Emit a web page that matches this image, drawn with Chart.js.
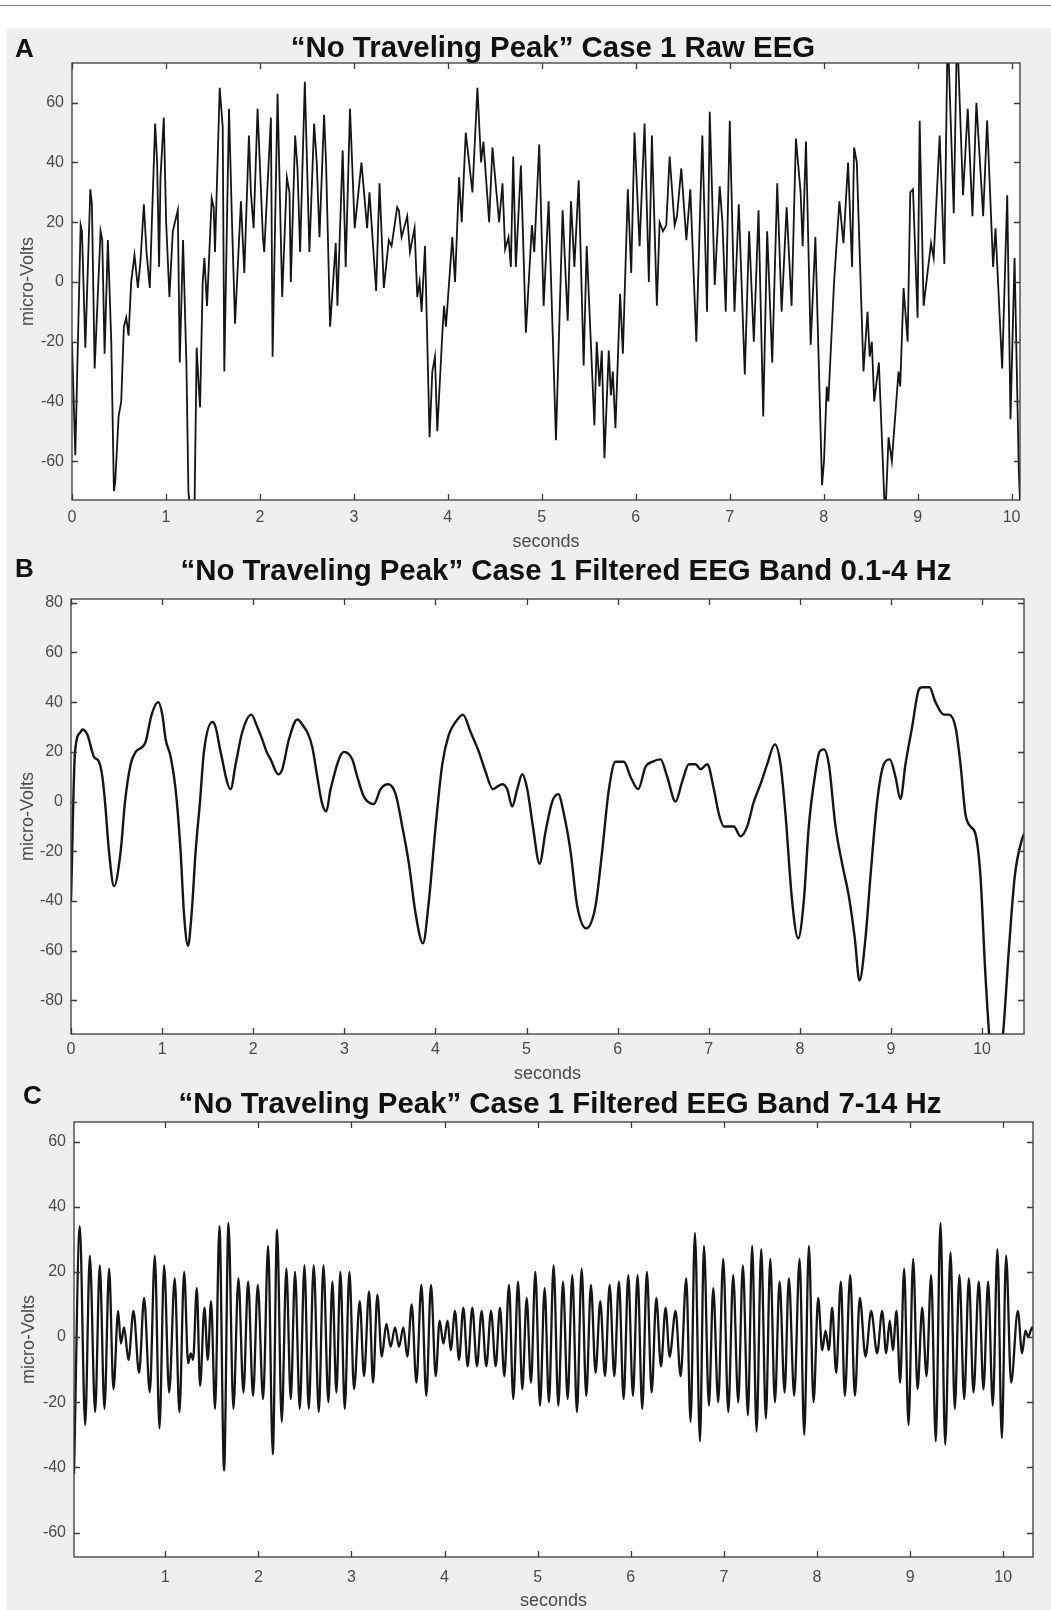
<!DOCTYPE html>
<html>
<head>
<meta charset="utf-8">
<script src="https://cdn.jsdelivr.net/npm/chart.js@4.4.1/dist/chart.umd.min.js"></script>
<style>
  html, body { margin: 0; padding: 0; background: #fff; }
  #page { position: relative; width: 1051px; height: 1610px; overflow: hidden;
          font-family: "Liberation Sans", Arial, sans-serif; }
  .topline { position: absolute; left: 0; top: 5px; width: 1051px; height: 1px; background: #7a7a7a; }
  .figbg { position: absolute; left: 7px; top: 28px; width: 1044px; height: 1582px; background: #efefef; }
  canvas { position: absolute; left: 0; }
  .ptitle { position: absolute; font-weight: bold; font-size: 29.4px; line-height: 29px;
            white-space: nowrap; color: #111; transform: translateX(-50%); }
  .letter { position: absolute; font-weight: bold; font-size: 26px; line-height: 26px; color: #111; }
</style>
</head>
<body>
<div id="page">
  <div class="topline"></div>
  <div class="figbg"></div>
  <canvas id="chartA" width="1051" height="528" style="top:28px"></canvas>
  <canvas id="chartB" width="1051" height="534" style="top:556px"></canvas>
  <canvas id="chartC" width="1051" height="525" style="top:1090px"></canvas>
  <div class="letter" style="left:15px; top:35px">A</div>
  <div class="ptitle" style="left:553px; top:32px">“No Traveling Peak” Case 1 Raw EEG</div>
  <div class="letter" style="left:15px; top:555px">B</div>
  <div class="ptitle" style="left:566px; top:555px">“No Traveling Peak” Case 1 Filtered EEG Band 0.1-4 Hz</div>
  <div class="letter" style="left:23px; top:1082px">C</div>
  <div class="ptitle" style="left:560px; top:1088px">“No Traveling Peak” Case 1 Filtered EEG Band 7-14 Hz</div>
</div>
<script>
// --- A: raw EEG (seconds / micro-volts) ---
const tA = [
  0.000,0.035,0.092,0.106,0.142,0.195,0.212,0.241,0.304,0.322,
  0.347,0.382,0.418,0.446,0.460,0.496,0.524,0.552,0.577,0.602,
  0.630,0.665,0.701,0.729,0.765,0.793,0.828,0.850,0.885,0.906,
  0.927,0.942,0.977,1.002,1.037,1.073,1.126,1.147,1.182,1.218,
  1.239,1.267,1.303,1.327,1.349,1.363,1.391,1.409,1.437,1.487,
  1.508,1.522,1.572,1.604,1.621,1.671,1.703,1.735,1.798,1.834,
  1.883,1.904,1.933,1.975,2.032,2.046,2.117,2.135,2.188,2.237,
  2.287,2.315,2.329,2.375,2.400,2.428,2.478,2.527,2.577,2.605,
  2.634,2.683,2.704,2.747,2.807,2.825,2.881,2.913,2.959,3.009,
  3.081,3.141,3.166,3.237,3.273,3.319,3.372,3.401,3.461,3.479,
  3.508,3.568,3.597,3.646,3.675,3.700,3.721,3.757,3.806,3.835,
  3.863,3.888,3.942,3.960,3.980,4.048,4.077,4.120,4.148,4.191,
  4.262,4.315,4.354,4.379,4.440,4.475,4.546,4.582,4.610,4.646,
  4.671,4.696,4.724,4.778,4.831,4.895,4.920,4.973,5.020,5.073,
  5.151,5.222,5.276,5.311,5.347,5.393,5.446,5.478,5.560,5.585,
  5.614,5.639,5.667,5.713,5.736,5.756,5.784,5.834,5.863,5.916,
  5.952,5.987,6.041,6.094,6.140,6.172,6.225,6.254,6.290,6.325,
  6.361,6.414,6.439,6.485,6.539,6.581,6.645,6.709,6.759,6.788,
  6.841,6.894,6.923,6.958,7.001,7.051,7.097,7.161,7.207,7.257,
  7.307,7.357,7.399,7.453,7.506,7.553,7.606,7.659,7.705,7.755,
  7.777,7.812,7.862,7.912,7.983,8.004,8.033,8.050,8.111,8.168,
  8.211,8.260,8.303,8.324,8.353,8.424,8.467,8.490,8.513,8.538,
  8.588,8.655,8.691,8.726,8.797,8.815,8.851,8.894,8.922,8.951,
  9.000,9.022,9.064,9.143,9.171,9.235,9.285,9.320,9.385,9.420,
  9.484,9.534,9.584,9.626,9.698,9.740,9.804,9.829,9.900,9.954,
  9.989,10.032,10.078,10.096
];
const vA = [
  -20,-58,19,17,-22,31,26,-29,17,14,
  -24,14,-20,-70,-67,-45,-40,-15,-12,-18,
  0,9,-2,7,26,10,-2,20,53,40,
  5,35,55,20,-5,17,24,-27,14,-28,
  -70,-80,-78,-22,-35,-42,0,8,-8,28,
  25,10,65,52,-30,58,20,-14,27,3,
  49,30,18,58,15,10,55,-25,63,-5,
  35,30,0,49,38,10,67,10,53,40,
  15,56,40,-15,13,-8,44,5,58,18,
  40,18,30,-3,33,-2,14,12,25,24,
  15,22,10,18,-5,0,-10,12,-52,-30,
  -25,-50,-17,-8,-15,15,0,35,20,50,
  30,65,40,47,20,45,20,33,11,15,
  5,42,5,39,-17,19,10,46,-8,27,
  -53,24,-13,27,5,34,-28,12,-48,-20,
  -35,-23,-59,-23,-38,-30,-49,-4,-24,31,
  3,50,12,53,0,49,-8,20,17,19,
  42,19,22,38,14,31,-20,49,-10,57,
  -1,32,20,-10,54,-10,26,-31,17,-20,
  24,-45,17,-27,33,-10,25,-8,48,30,
  12,47,-21,15,-68,-60,-35,-40,0,27,
  13,40,5,45,40,-30,-10,-25,-20,-40,
  -27,-80,-52,-60,-30,-35,-2,-20,30,31,
  -12,54,-8,13,8,49,6,85,23,85,
  29,58,22,60,22,54,5,18,-29,29,
  -46,8,-64,-78
];

// --- B: 0.1-4 Hz band ---
const tB = [
  0.000,0.044,0.106,0.124,0.179,0.252,0.307,0.344,0.373,0.417,
  0.472,0.545,0.593,0.655,0.710,0.783,0.819,0.885,0.958,1.002,
  1.039,1.094,1.148,1.203,1.240,1.284,1.324,1.368,1.416,1.459,
  1.551,1.587,1.642,1.752,1.807,1.880,1.979,2.045,2.099,2.147,
  2.191,2.275,2.319,2.392,2.484,2.557,2.593,2.648,2.703,2.751,
  2.802,2.849,2.996,3.087,3.142,3.215,3.325,3.398,3.482,3.563,
  3.636,3.709,3.782,3.863,3.928,4.002,4.075,4.148,4.221,4.302,
  4.386,4.477,4.550,4.631,4.678,4.733,4.788,4.843,4.898,4.953,
  5.008,5.070,5.143,5.209,5.282,5.348,5.410,5.483,5.556,5.655,
  5.757,5.830,5.904,5.977,6.068,6.141,6.225,6.306,6.379,6.471,
  6.544,6.635,6.708,6.782,6.855,6.910,6.983,7.056,7.111,7.166,
  7.275,7.349,7.422,7.495,7.568,7.641,7.725,7.788,7.842,7.915,
  7.981,8.043,8.098,8.164,8.215,8.263,8.318,8.391,8.464,8.537,
  8.603,8.654,8.720,8.775,8.848,8.921,8.987,9.049,9.104,9.159,
  9.232,9.305,9.342,9.423,9.488,9.580,9.635,9.708,9.763,9.817,
  9.872,9.927,9.982,10.037,10.092,10.165,10.231,10.293,10.359,10.439,
  10.460
];
const vB = [
  -40,20,28,29,27,18,16,10,0,-20,
  -34,-20,0,15,20,22,24,35,40,35,
  25,18,5,-20,-45,-58,-45,-20,0,20,
  32,30,20,5,15,28,35,30,25,20,
  17,11,13,25,33,30,28,22,10,0,
  -4,5,20,17,10,2,-1,5,7,3,
  -10,-25,-45,-57,-40,-10,15,27,32,35,
  28,20,12,5,6,7,5,-2,5,11,
  5,-10,-25,-12,0,3,-5,-20,-42,-51,
  -42,-20,5,16,16,10,5,14,16,17,
  10,0,8,15,15,13,15,5,-5,-10,
  -10,-14,-10,0,7,15,23,15,-5,-40,
  -55,-40,-10,10,20,21,15,-10,-25,-38,
  -55,-72,-55,-30,0,15,17,10,1,15,
  30,45,46,46,40,35,35,30,15,-5,
  -10,-13,-30,-70,-100,-112,-93,-60,-30,-15,
  -13
];

// --- C: 7-14 Hz band (peaks and troughs) ---
const tC = [
  0.020,0.082,0.140,0.190,0.247,0.297,0.347,0.397,0.444,0.494,
  0.523,0.558,0.605,0.659,0.719,0.773,0.834,0.888,0.938,0.988,
  1.042,1.102,1.152,1.203,1.246,1.274,1.299,1.339,1.374,1.421,
  1.457,1.492,1.535,1.582,1.632,1.679,1.732,1.786,1.840,1.890,
  1.943,1.994,2.051,2.105,2.155,2.201,2.251,2.301,2.348,2.394,
  2.445,2.495,2.541,2.595,2.649,2.699,2.752,2.795,2.838,2.881,
  2.928,2.978,3.028,3.089,3.135,3.189,3.232,3.278,3.325,3.375,
  3.421,3.468,3.511,3.557,3.600,3.647,3.697,3.751,3.804,3.854,
  3.905,3.947,3.987,4.033,4.066,4.112,4.155,4.202,4.248,4.298,
  4.348,4.398,4.448,4.499,4.549,4.595,4.642,4.692,4.738,4.789,
  4.835,4.882,4.928,4.975,5.025,5.075,5.121,5.171,5.222,5.272,
  5.322,5.372,5.422,5.472,5.522,5.572,5.622,5.672,5.723,5.773,
  5.823,5.873,5.923,5.973,6.023,6.073,6.123,6.173,6.224,6.274,
  6.324,6.374,6.417,6.481,6.535,6.596,6.642,6.689,6.743,6.786,
  6.839,6.886,6.939,6.993,7.047,7.100,7.154,7.204,7.258,7.304,
  7.351,7.401,7.451,7.498,7.548,7.598,7.652,7.698,7.755,7.813,
  7.863,7.913,7.963,8.013,8.056,8.092,8.127,8.163,8.206,8.256,
  8.299,8.357,8.407,8.460,8.521,8.582,8.646,8.700,8.743,8.782,
  8.815,8.854,8.893,8.936,8.983,9.033,9.080,9.130,9.176,9.226,
  9.276,9.326,9.377,9.434,9.480,9.530,9.581,9.631,9.681,9.738,
  9.788,9.838,9.888,9.938,9.985,10.031,10.085,10.157,10.203,10.239,
  10.268,10.311,10.320
];
const vC = [
  -42,34,-27,25,-23,22,-22,21,-16,8,
  -2,3,-7,8,-11,12,-17,25,-28,22,
  -17,18,-23,20,-8,-5,-7,15,-15,9,
  -7,11,-22,34,-41,35,-22,18,-17,17,
  -18,16,-19,28,-36,33,-26,21,-19,20,
  -22,22,-22,22,-23,22,-20,17,-17,20,
  -22,20,-16,11,-12,14,-14,13,-6,4,
  -3,3,-3,3,-6,10,-14,16,-18,16,
  -12,5,-2,5,-4,8,-7,9,-9,9,
  -9,8,-9,8,-9,9,-12,16,-19,17,
  -16,12,-14,20,-21,15,-20,22,-21,17,
  -19,19,-23,21,-18,16,-11,11,-12,16,
  -12,17,-19,19,-18,19,-22,20,-17,12,
  -9,9,-6,8,-12,18,-26,32,-32,28,
  -21,15,-20,24,-23,19,-20,22,-24,28,
  -29,27,-25,24,-20,17,-17,18,-18,24,
  -30,28,-20,12,-4,2,-4,9,-11,17,
  -18,19,-18,12,-6,8,-5,8,-5,5,
  -4,8,-14,21,-27,24,-16,9,-12,19,
  -32,35,-33,26,-22,19,-19,18,-17,17,
  -16,17,-21,27,-31,25,-14,8,-5,2,
  0,3,2
];

// tick labels
const xTicksA = [0,1,2,3,4,5,6,7,8,9,10];
const yTicksA = [-60,-40,-20,0,20,40,60];
const xTicksB = [0,1,2,3,4,5,6,7,8,9,10];
const yTicksB = [-80,-60,-40,-20,0,20,40,60,80];
const xTicksC = [1,2,3,4,5,6,7,8,9,10];
const yTicksC = [-60,-40,-20,0,20,40,60];

const FONT = '"Liberation Sans", Arial, sans-serif';
const W = 1051;

// white plot area, box and inward ticks like a matlab axes
const matlabBox = {
  id: 'matlabBox',
  beforeDraw(chart) {
    const { ctx, chartArea: a } = chart;
    ctx.save();
    ctx.fillStyle = '#ffffff';
    ctx.fillRect(a.left, a.top, a.right - a.left, a.bottom - a.top);
    ctx.restore();
  },
  afterDraw(chart) {
    const { ctx, chartArea: a, scales } = chart;
    const len = 6;
    ctx.save();
    ctx.strokeStyle = '#3a3a3a';
    ctx.lineWidth = 1.3;
    ctx.strokeRect(a.left, a.top, a.right - a.left, a.bottom - a.top);
    ctx.beginPath();
    scales.x.ticks.forEach(t => {
      const p = Math.round(scales.x.getPixelForValue(t.value)) + 0.5;
      ctx.moveTo(p, a.bottom); ctx.lineTo(p, a.bottom - len);
      ctx.moveTo(p, a.top); ctx.lineTo(p, a.top + len);
    });
    scales.y.ticks.forEach(t => {
      const p = Math.round(scales.y.getPixelForValue(t.value)) + 0.5;
      ctx.moveTo(a.left, p); ctx.lineTo(a.left + len, p);
      ctx.moveTo(a.right, p); ctx.lineTo(a.right - len, p);
    });
    ctx.stroke();
    ctx.restore();
  }
};

function makePanel(id, lay, xs, ys, xRange, yRange, xTicks, yTicks, lineWidth, smooth) {
  const xScaleBottom = lay.secondsBase + 5 - lay.top;
  const plotBottom = lay.plot.b - lay.top;
  const points = xs.map((x, i) => ({ x: x, y: ys[i] }));

  return new Chart(document.getElementById(id), {
    type: 'line',
    data: {
      datasets: [{
        data: points,
        borderColor: '#151515',
        borderWidth: lineWidth,
        pointRadius: 0,
        tension: smooth ? 0.4 : 0,
        cubicInterpolationMode: smooth ? 'monotone' : 'default',
        clip: 0
      }]
    },
    options: {
      responsive: false,
      animation: false,
      events: [],
      layout: {
        padding: {
          left: lay.yTitleLeft,
          right: W - lay.plot.r,
          top: lay.plot.t - lay.top,
          bottom: lay.height - xScaleBottom
        }
      },
      plugins: { legend: { display: false }, tooltip: { enabled: false } },
      scales: {
        x: {
          type: 'linear',
          min: xRange[0], max: xRange[1],
          afterBuildTicks: s => { s.ticks = xTicks.map(v => ({ value: v })); },
          afterFit: s => { s.height = xScaleBottom - plotBottom; },
          grid: { display: false, drawTicks: false },
          border: { display: false },
          ticks: { font: { family: FONT, size: 16 }, color: '#4a4a4a', padding: lay.xLabelPad,
                   maxRotation: 0, autoSkip: false, callback: v => String(v) },
          title: { display: true, text: 'seconds', font: { family: FONT, size: 18 },
                   color: '#4a4a4a', padding: 0 }
        },
        y: {
          type: 'linear',
          min: yRange[0], max: yRange[1],
          afterBuildTicks: s => { s.ticks = yTicks.map(v => ({ value: v })); },
          afterFit: s => { s.width = lay.plot.l - lay.yTitleLeft; },
          grid: { display: false, drawTicks: false },
          border: { display: false },
          ticks: { font: { family: FONT, size: 16 }, color: '#4a4a4a', padding: 8,
                   autoSkip: false, callback: v => String(v) },
          title: { display: true, text: 'micro-Volts', font: { family: FONT, size: 18 },
                   color: '#4a4a4a', padding: 0 }
        }
      }
    },
    plugins: [matlabBox]
  });
}

makePanel('chartA',
  { top: 28, height: 528, plot: { l: 72, t: 63, r: 1020, b: 500 }, secondsBase: 548, yTitleLeft: 17, xLabelPad: 8 },
  tA, vA, [0, 10.09], [-73, 73.3], xTicksA, yTicksA, 1.8, false);

makePanel('chartB',
  { top: 556, height: 534, plot: { l: 71, t: 599, r: 1024, b: 1034 }, secondsBase: 1080, yTitleLeft: 17, xLabelPad: 6 },
  tB, vB, [0, 10.46], [-93.5, 81.5], xTicksB, yTicksB, 2.4, true);

makePanel('chartC',
  { top: 1090, height: 525, plot: { l: 74, t: 1122, r: 1033, b: 1557 }, secondsBase: 1607, yTitleLeft: 18, xLabelPad: 11 },
  tC, vC, [0.02, 10.32], [-67.5, 66], xTicksC, yTicksC, 2.3, true);
</script>
</body>
</html>
